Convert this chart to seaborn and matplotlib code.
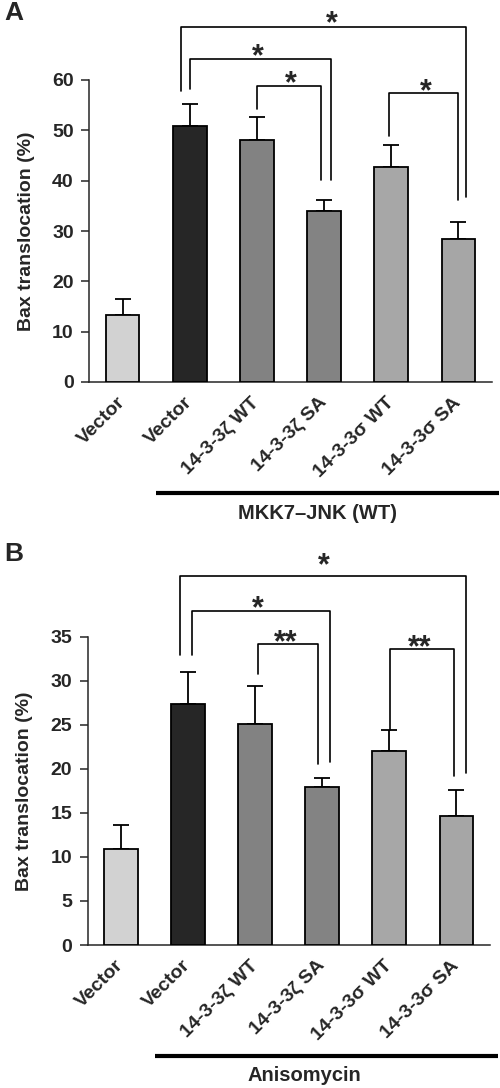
import numpy as np
import pandas as pd
import seaborn as sns
import matplotlib
matplotlib.use("Agg")
import matplotlib.pyplot as plt

# bar labels (shared by both panels)
tick_labels = ["Vector", "Vector", "14-3-3\u03b6 WT", "14-3-3\u03b6 SA", "14-3-3\u03c3 WT", "14-3-3\u03c3 SA"]
bar_keys = ["vec0", "vec1", "zwt", "zsa", "swt", "ssa"]
bar_colors = ["#d2d2d2", "#262626", "#828282", "#838383", "#a7a7a7", "#a6a6a6"]

# panel A: MKK7-JNK (WT)
values_a = [13.3, 50.8, 48.0, 33.9, 42.7, 28.5]
err_a = [3.1, 4.4, 4.6, 2.2, 4.4, 3.3]
# panel B: Anisomycin
values_b = [10.9, 27.4, 25.1, 17.9, 22.0, 14.7]
err_b = [2.7, 3.6, 4.3, 1.1, 2.4, 2.9]

# significance brackets: x left, x right, top y, left leg end, right leg end, star x, star y, text
brackets_a = [
    (0.87, 5.11, 70.5, 57.9, 36.7, 3.11, 71.0, "*"),
    (1.01, 3.11, 64.2, 58.2, 40.2, 2.02, 64.6, "*"),
    (2.00, 2.95, 58.9, 54.2, 40.2, 2.51, 59.2, "*"),
    (3.97, 4.99, 57.4, 48.8, 36.2, 4.51, 57.6, "*"),
]
brackets_b = [
    (0.88, 5.14, 41.9, 32.9, 19.5, 3.02, 43.0, "*"),
    (1.06, 3.12, 37.9, 32.9, 20.8, 2.04, 38.1, "*"),
    (2.04, 2.94, 34.2, 30.8, 20.6, 2.45, 34.3, "**"),
    (4.01, 4.96, 33.6, 24.4, 19.2, 4.45, 33.7, "**"),
]

sns.set_style("ticks")
plt.rcParams["font.family"] = ["Liberation Sans", "DejaVu Sans"]
plt.rcParams["font.weight"] = "bold"

fig = plt.figure(figsize=(5, 10.88), dpi=100)
ax_a = fig.add_axes([0.178, 1 - 382 / 1088, 0.806, 302 / 1088])
ax_b = fig.add_axes([0.175, 1 - 945 / 1088, 0.8046, 308.3 / 1088])


def draw_panel(ax, values, errs, brackets, ymax, ystep, group_label, line_y, label_x, label_y, line_x):
    df = pd.DataFrame({"key": bar_keys, "value": values})
    sns.barplot(data=df, x="key", y="value", hue="key", palette=bar_colors, legend=False,
                edgecolor="black", linewidth=1.3, width=0.5, errorbar=None, ax=ax, zorder=3)
    ax.errorbar(np.arange(len(values)), values, yerr=[np.zeros(len(errs)), errs],
                fmt="none", ecolor="black", elinewidth=1.3, capsize=6, capthick=1.3, zorder=2)
    ax.set_xlim(-0.5, 5.5)
    ax.set_ylim(0, ymax)
    ax.set_yticks(np.arange(0, ymax + 0.1, ystep))
    ax.set_xticks(range(6))
    ax.set_xticklabels(tick_labels, rotation=45, ha="right", rotation_mode="anchor",
                       va="center", fontsize=14, fontweight="bold")
    ax.tick_params(axis="x", length=0, pad=13)
    ax.tick_params(axis="y", length=6, width=1.1, pad=5, labelsize=14)
    ax.set_xlabel("")
    ax.set_ylabel("Bax translocation (%)", fontsize=14, fontweight="bold")
    ax.yaxis.set_label_coords(-0.135, 0.5)
    sns.despine(ax=ax)
    for s in ["left", "bottom"]:
        ax.spines[s].set_linewidth(1.1)

    for x1, x2, y, y1, y2, sx, sy, txt in brackets:
        ax.plot([x1, x1, x2, x2], [y1, y, y, y2], color="black", lw=1.2,
                clip_on=False, zorder=4)
        ax.text(sx, sy, txt, ha="center", va="center", fontsize=22, fontweight="bold")

    tr = ax.get_xaxis_transform()
    ax.plot(line_x, [line_y, line_y], color="black", lw=3, transform=tr,
            clip_on=False, solid_capstyle="butt")
    ax.text(label_x, label_y, group_label, transform=tr, ha="center", va="center",
            fontsize=14.5, fontweight="bold")


draw_panel(ax_a, values_a, err_a, brackets_a, 60, 10, "MKK7\u2013JNK (WT)",
           -0.3685, 2.9, -0.434, [0.5, 5.6])
draw_panel(ax_b, values_b, err_b, brackets_b, 35, 5, "Anisomycin",
           -0.36, 2.73, -0.4217, [0.51, 5.62])

fig.text(0.008, 0.999, "A", ha="left", va="top", fontsize=19, fontweight="bold")
fig.text(0.008, 0.502, "B", ha="left", va="top", fontsize=19, fontweight="bold")

fig.savefig("out.png", dpi=100)
